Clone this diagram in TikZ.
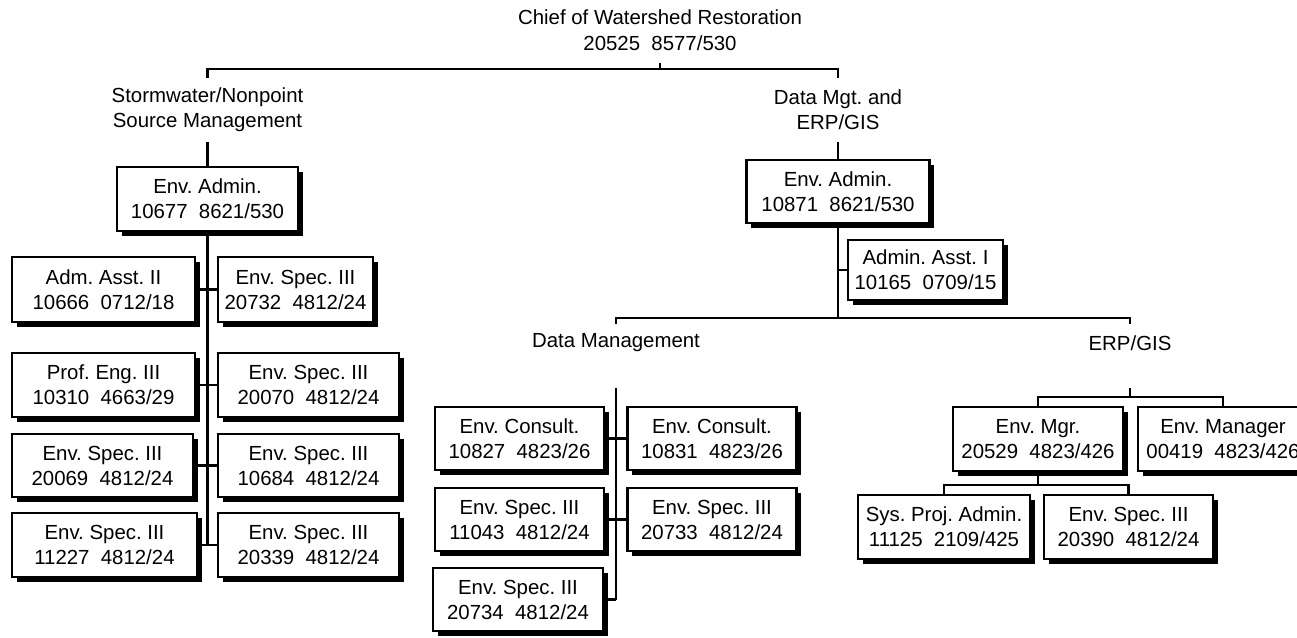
\documentclass[tikz,border=0pt]{standalone}
\usepackage{fontspec}
\setmainfont{Liberation Sans}
\usetikzlibrary{shadows}
\frenchspacing
\begin{document}
\begin{tikzpicture}[x=1pt,y=-1pt,
  line width=2.4pt,
  every node/.style={font=\fontsize{20.4pt}{25pt}\selectfont\frenchspacing, align=center, inner sep=0pt},
  post/.style={draw, line width=2.4pt, fill=white, minimum height=64pt,
    general shadow={fill=black, shadow xshift=4.5pt, shadow yshift=-4.5pt}},
  unit/.style={minimum height=62pt},
  sublabel/.style={minimum height=36pt},
]
\clip (0,0) rectangle (1297,637);

% head of the division
\node[minimum height=64pt, font=\fontsize{20.4pt}{26pt}\selectfont\frenchspacing] (chief) at (660,30)
  {Chief of Watershed Restoration\\20525~~8577/530};
\coordinate (topbar) at (660,69);

% sections
\node[unit] (sw) at (207.5,110) {Stormwater/Nonpoint\\Source Management};
\node[unit] (dm) at (838,110) {Data Mgt. and\\ERP/GIS};

% Stormwater/Nonpoint section
\node[post, minimum width=181pt] (sa) at (207.5,199) {Env. Admin.\\10677~~8621/530};
\node[post, minimum width=183pt, minimum height=65pt] (l1a) at (103.5,289.5) {Adm. Asst. II\\10666~~0712/18};
\node[post, minimum width=155pt, minimum height=65pt] (l1b) at (295.5,289.5) {Env. Spec. III\\20732~~4812/24};
\node[post, minimum width=183pt] (l2a) at (103.5,385) {Prof. Eng. III\\10310~~4663/29};
\node[post, minimum width=181pt] (l2b) at (308.5,385) {Env. Spec. III\\20070~~4812/24};
\node[post, minimum width=181pt, minimum height=63pt] (l3a) at (102.5,465.5) {Env. Spec. III\\20069~~4812/24};
\node[post, minimum width=181pt, minimum height=63pt] (l3b) at (308.5,465.5) {Env. Spec. III\\10684~~4812/24};
\node[post, minimum width=185pt] (l4a) at (104.5,545) {Env. Spec. III\\11227~~4812/24};
\node[post, minimum width=181pt] (l4b) at (308.5,545) {Env. Spec. III\\20339~~4812/24};

% Data Mgt. and ERP/GIS section
\node[post, minimum width=183pt, minimum height=63pt] (da) at (838,191.5) {Env. Admin.\\10871~~8621/530};
\node[post, minimum width=155pt, minimum height=60pt] (aa) at (925.5,270) {Admin. Asst. I\\10165~~0709/15};
\coordinate (dbar) at (838,318);
\node[sublabel] (dml) at (616,343) {Data Management};
\node[sublabel] (erl) at (1130,343) {ERP/GIS};
\coordinate (dmj) at (616,388);
\coordinate (erj) at (1130,388);
\coordinate (erbar) at (1130,397);

% Data Management unit
\node[post, minimum width=169pt, minimum height=63pt] (m1a) at (519.5,438.5) {Env. Consult.\\10827~~4823/26};
\node[post, minimum width=169pt, minimum height=63pt] (m1b) at (712,438.5) {Env. Consult.\\10831~~4823/26};
\node[post, minimum width=169pt, minimum height=63pt] (m2a) at (519.5,519.5) {Env. Spec. III\\11043~~4812/24};
\node[post, minimum width=169pt, minimum height=63pt] (m2b) at (712,519.5) {Env. Spec. III\\20733~~4812/24};
\node[post, minimum width=170pt, minimum height=63pt] (m3a) at (518,599.5) {Env. Spec. III\\20734~~4812/24};

% ERP/GIS unit
\node[post, minimum width=170pt] (e1) at (1038,439) {Env. Mgr.\\20529~~4823/426};
\node[post, minimum width=170pt] (e2) at (1223,439) {Env. Manager\\00419~~4823/426};
\coordinate (emlow) at (1038,485);
\node[post, minimum width=172pt] (e3) at (944,527) {Sys. Proj. Admin.\\11125~~2109/425};
\node[post, minimum width=169pt] (e4) at (1128.5,527) {Env. Spec. III\\20390~~4812/24};

% connectors: top level
\draw (chief.south) -- (topbar);
\draw (sw.north) -- (sw.north |- topbar) -- (dm.north |- topbar) -- (dm.north);
\draw (sw.south) -- (sa.north);
\draw (dm.south) -- (da.north);

% connectors: Stormwater/Nonpoint
\draw (sa.south) -- (sa.south |- l4a.east);
\foreach \i in {1,...,4} \draw (l\i a.east) -- (l\i b.west);

% connectors: Data Mgt. and ERP/GIS
\draw (da.south) -- (dbar);
\draw (aa.west) -- (aa.west -| dbar);
\draw (dml.north) -- (dml.north |- dbar) -- (erl.north |- dbar) -- (erl.north);

% connectors: Data Management
\draw (dmj) -- (dmj |- m3a.east);
\draw (m1a.east) -- (m1b.west);
\draw (m2a.east) -- (m2b.west);
\draw (m3a.east) -- (m3a.east -| dmj);

% connectors: ERP/GIS
\draw (erj) -- (erbar);
\draw (e1.north) -- (e1.north |- erbar) -- (e2.north |- erbar) -- (e2.north);
\draw (e1.south) -- (emlow);
\draw (e3.north) -- (e3.north |- emlow) -- (e4.north |- emlow) -- (e4.north);
\end{tikzpicture}
\end{document}
